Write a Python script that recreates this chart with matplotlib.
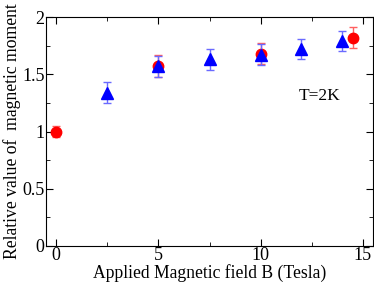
import matplotlib.pyplot as plt
from matplotlib.ticker import MultipleLocator, FormatStrFormatter

plt.rcParams['font.family'] = ['Liberation Serif', 'DejaVu Serif']

# red circles
red_b = [0, 5, 10, 14.5]
red_m = [1.0, 1.57, 1.68, 1.82]
red_err = [0.05, 0.095, 0.09, 0.09]

# blue triangles
blue_b = [2.5, 5, 7.5, 10, 12, 14]
blue_m = [1.34, 1.57, 1.63, 1.67, 1.72, 1.79]
blue_err = [0.09, 0.09, 0.09, 0.09, 0.09, 0.09]

fig = plt.figure(figsize=(3.74, 2.83), dpi=100)
ax = fig.add_axes([46 / 374, 37 / 283, 327 / 374, 229 / 283])

ax.errorbar(red_b, red_m, yerr=red_err, fmt='o', color='red', ms=7.5,
            ecolor='#ff6060', elinewidth=1, capsize=3, zorder=3)
ax.errorbar(blue_b, blue_m, yerr=blue_err, fmt='^', color='blue', ms=8,
            ecolor='#6a6aff', elinewidth=1, capsize=3, zorder=4)

ax.text(12.9, 1.31, 'T=2K', fontsize=12.5, ha='center', va='center')

ax.set_xlim(-0.5, 15.5)
ax.set_ylim(0, 2)
ax.xaxis.set_major_locator(MultipleLocator(5))
ax.xaxis.set_minor_locator(MultipleLocator(2.5))
ax.yaxis.set_major_locator(MultipleLocator(0.5))
ax.yaxis.set_minor_locator(MultipleLocator(0.25))
ax.xaxis.set_major_formatter(FormatStrFormatter('%g'))
ax.yaxis.set_major_formatter(FormatStrFormatter('%g'))
ax.tick_params(which='both', direction='in', top=True, right=True, labelsize=13, pad=1)
ax.tick_params(which='major', length=5)
ax.tick_params(which='minor', length=3)

ax.set_xlabel('Applied Magnetic field B (Tesla)', fontsize=12.7, labelpad=0)
ax.set_ylabel('Relative value of  magnetic moment', fontsize=12.7, labelpad=1)

fig.savefig('out.png', dpi=100)
